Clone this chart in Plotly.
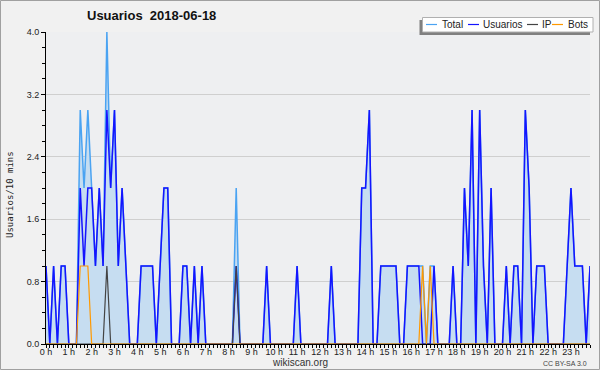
import plotly.graph_objects as go

# 10-minute slots, 144 per day
hours = [i / 6 for i in range(144)]

usuarios = [1,0,1,0,1,1,0,0,0,2, 1,2,2,1,2,1,3,2,3,1,
            2,1,0,0,0,1,1,1,1,0, 1,2,2,0,0,0,1,1,0,1,
            0,1,0,0,0,0,0,0,0,0, 1,0,0,0,0,0,0,0,1,0,
            0,0,0,0,0,0,1,0,0,0, 0,0,0,0,0,1,0,0,0,0,
            0,0,0,2,2,3,0,0,1,1, 1,1,1,0,0,1,1,1,1,0,
            0,0,1,0,0,0,0,1,0,0, 2,1,3,0,3,1,0,2,0,0,
            0,1,0,1,1,0,3,2,0,1, 1,1,0,0,0,0,0,1,2,1,
            1,1,0,1]
ip = [0]*144
ip[16] = 1
ip[50] = 1
bots = [0]*144
for k in (9, 10, 11, 99, 101):
    bots[k] = 1
total = [u + p + b for u, p, b in zip(usuarios, ip, bots)]

y_ticks = [0.0, 0.8, 1.6, 2.4, 3.2, 4.0]
x_ticks = list(range(24))
x_labels = [f"{h} h" for h in x_ticks]

fig = go.Figure()
fig.add_trace(go.Scatter(x=hours, y=total, mode="lines", name="Total",
                         line=dict(color="#4aa3f2", width=1.5),
                         fill="tozeroy", fillcolor="#c6ddf1"))
fig.add_trace(go.Scatter(x=hours, y=usuarios, mode="lines", name="Usuarios",
                         line=dict(color="#1414ff", width=1.5)))
fig.add_trace(go.Scatter(x=hours, y=ip, mode="lines", name="IP",
                         line=dict(color="#444444", width=1.2)))
fig.add_trace(go.Scatter(x=hours, y=bots, mode="lines", name="Bots",
                         line=dict(color="#ff9900", width=1.2)))

L, R, T, B = 46, 10, 32, 26
W, H = 600, 370
pw, ph = W - L - R, H - T - B

def px(xp):
    return (xp - L) / pw

def py(yp):
    return (H - B - yp) / ph

shapes = [
    dict(type="rect", xref="paper", yref="paper", x0=px(0.5), x1=px(599.5), y0=py(0.5), y1=py(369.5),
         line=dict(color="#a0a0a0", width=1), layer="below"),
    dict(type="rect", xref="paper", yref="paper", x0=px(419.5), x1=px(590), y0=py(20), y1=py(35),
         fillcolor="#808080", line=dict(width=0)),
    dict(type="rect", xref="paper", yref="paper", x0=px(422.5), x1=px(593), y0=py(17.5), y1=py(32),
         fillcolor="#ffffff", line=dict(color="#b0b0b0", width=1)),
]
annotations = []
legend_items = [("Total", "#4aa3f2", 426, 440), ("Usuarios", "#1414ff", 468, 481),
                ("IP", "#444444", 527, 540), ("Bots", "#ff9900", 552, 566)]
for name, col, lx, tx in legend_items:
    shapes.append(dict(type="line", xref="paper", yref="paper", x0=px(lx), x1=px(lx + 11),
                       y0=py(24.5), y1=py(24.5), line=dict(color=col, width=1.2)))
    annotations.append(dict(x=px(tx), y=py(24.7), xref="paper", yref="paper", text=name,
                            showarrow=False, xanchor="left", yanchor="middle",
                            font=dict(family="Liberation Sans", size=10, color="#222")))

annotations += [
    dict(x=px(85), y=py(16), xref="paper", yref="paper", text="<b>Usuarios&nbsp;&nbsp;2018-06-18</b>",
         showarrow=False, xanchor="left", yanchor="middle",
         font=dict(family="Liberation Sans", size=13, color="#111")),
    dict(x=px(10), y=py(195), xref="paper", yref="paper", text="Usuarios/10 mins",
         showarrow=False, textangle=-90, xanchor="center", yanchor="middle",
         font=dict(family="DejaVu Sans Mono", size=9, color="#222")),
    dict(x=px(300), y=py(362), xref="paper", yref="paper", text="wikiscan.org",
         showarrow=False, xanchor="center", yanchor="middle",
         font=dict(family="Liberation Sans", size=10, color="#333")),
    dict(x=px(589), y=py(363), xref="paper", yref="paper", text="CC BY-SA 3.0",
         showarrow=False, xanchor="right", yanchor="middle",
         font=dict(family="Liberation Sans", size=7, color="#444")),
]

fig.update_layout(
    width=W, height=H, margin=dict(l=L, r=R, t=T, b=B),
    paper_bgcolor="#f1f1f1", plot_bgcolor="#eeeff1",
    showlegend=False, shapes=shapes, annotations=annotations,
    font=dict(family="Liberation Sans", size=9, color="#222"),
)
fig.update_xaxes(range=[0, 143 / 6], tickvals=x_ticks, ticktext=x_labels,
                 showgrid=False, zeroline=False, showline=True, linecolor="#000", linewidth=1,
                 ticks="outside", ticklen=3, tickcolor="#000", tickfont=dict(size=9),
                 ticklabelstandoff=-4,
                 minor=dict(dtick=1 / 6, ticks="outside", ticklen=3, tickcolor="#000", showgrid=False),
                 layer="above traces", fixedrange=True)
fig.update_yaxes(range=[0, 4], tickvals=y_ticks, ticktext=[f"{v:.1f}" for v in y_ticks],
                 showgrid=True, gridcolor="#cfcfcf", gridwidth=1, zeroline=False,
                 showline=True, linecolor="#000", linewidth=1,
                 ticks="outside", ticklen=4, tickcolor="#000", tickfont=dict(size=9),
                 minor=dict(dtick=0.2, ticks="outside", ticklen=3, tickcolor="#000", showgrid=False),
                 layer="above traces", fixedrange=True)

fig.write_html("out.html")
